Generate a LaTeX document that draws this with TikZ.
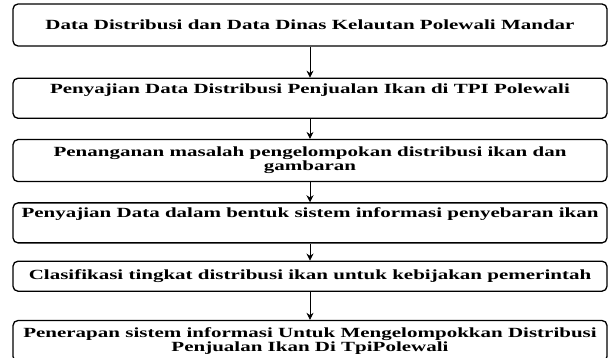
\documentclass[tikz,border=0pt]{standalone}
\usepackage{fontspec}
\newfontfamily\boxfont{Liberation Serif}[FakeStretch=1.5]
\usetikzlibrary{positioning,arrows.meta}

\begin{document}
\begin{tikzpicture}[x=1pt,y=1pt,
		step box/.style={draw,rounded corners=5pt,line width=1.3pt,minimum width=594pt,
			align=center,inner sep=0pt,font=\boxfont\bfseries\fontsize{14}{14}\selectfont},
		flow/.style={-{Stealth[length=7pt,width=7pt]},line width=0.8pt}]
		\useasboundingbox (0,0) rectangle (608,-358);
		\node[step box,minimum height=42pt]	(data)	at (310,-25)
			{Data Distribusi dan Data Dinas Kelautan Polewali Mandar};
		\node[step box,minimum height=40pt,text depth=20pt,node distance=31pt,below=of data]	(sajian)
			{Penyajian Data Distribusi Penjualan Ikan di TPI Polewali};
		\node[step box,minimum height=42pt,node distance=20pt,below=of sajian]	(masalah)
			{Penanganan masalah pengelompokan distribusi ikan dan\\ gambaran};
		\node[step box,minimum height=40pt,text depth=20pt,node distance=20pt,below=of masalah]	(sistem)
			{Penyajian Data dalam bentuk sistem informasi penyebaran ikan};
		\node[step box,minimum height=30pt,node distance=17pt,below=of sistem]	(klas)
			{Clasifikasi tingkat distribusi ikan untuk kebijakan pemerintah};
		\node[step box,minimum height=41pt,node distance=28pt,below=of klas]	(terap)
			{Penerapan sistem informasi Untuk Mengelompokkan Distribusi\\ Penjualan Ikan Di TpiPolewali};

		\draw[flow] (data) -- (sajian);
		\draw[flow] (sajian) -- (masalah);
		\draw[flow] (masalah) -- (sistem);
		\draw[flow] (sistem) -- (klas);
		\draw[flow] (klas) -- (terap);
	\end{tikzpicture}
\end{document}
